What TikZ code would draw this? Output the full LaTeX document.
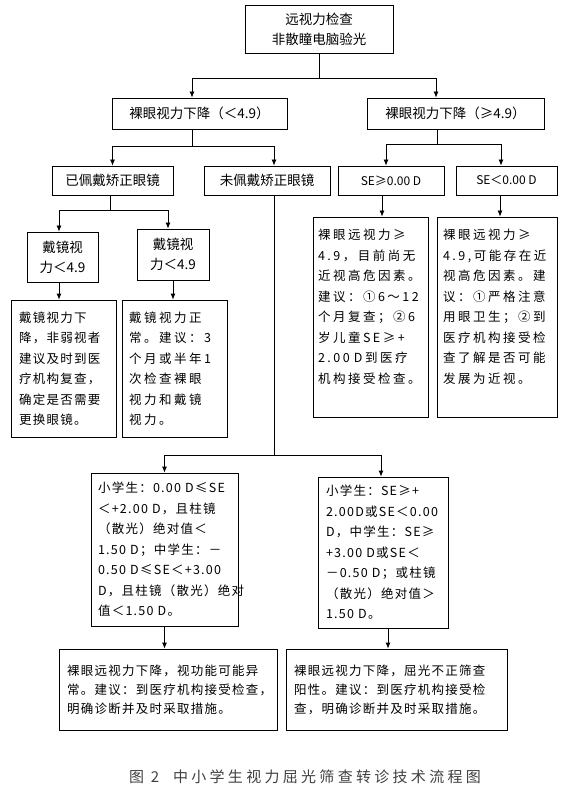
\documentclass[tikz,border=0pt]{standalone}
\usepackage{fontspec}
\setmainfont{Noto Sans CJK SC}
\newfontfamily\boxfont[LetterSpace=10]{Noto Sans CJK SC}
\newfontfamily\widefont[LetterSpace=20]{Noto Sans CJK SC}
\newfontfamily\capfont[LetterSpace=22]{Noto Sans CJK SC}
\usetikzlibrary{arrows.meta}

\begin{document}
\begin{tikzpicture}[x=1pt,y=-1pt,>={Latex[length=6pt,width=5pt]},
	every node/.style={font=\fontsize{13.5}{20}\selectfont,inner sep=0pt},
	box/.style={draw,line width=0.8pt,align=center},
	tbox/.style={draw,line width=0.8pt,align=left,inner sep=8pt,font=\boxfont\fontsize{12.5}{20.5}\selectfont},
	wide/.style={font=\widefont\fontsize{12.5}{20.5}\selectfont},
	conn/.style={line width=0.8pt}]
	\useasboundingbox (0,0) rectangle (570,799);
	% Top and first level
	\node[box,minimum width=148,minimum height=48] (eye) at (319,29) {远视力检查\\非散瞳电脑验光};
	\node[box,minimum width=175,minimum height=31] (low) at (199.5,113.5) {裸眼视力下降（＜4.9）};
	\node[box,minimum width=177,minimum height=31] (high) at (455.5,113.5) {裸眼视力下降（≥4.9）};
	\coordinate (j1) at (319,78);
	\draw[conn] (eye) -- (j1);
	\draw[conn,->] (j1) -| ([xshift=-7.5]low.north);
	\draw[conn,->] (j1) -| ([xshift=-19.5]high.north);
	% Second level
	\node[box,minimum width=121,minimum height=29] (wear) at (112.5,180.5) {已佩戴矫正眼镜};
	\node[box,minimum width=126,minimum height=29] (nowear) at (267,180.5) {未佩戴矫正眼镜};
	\node[box,minimum width=106,minimum height=29,font=\fontsize{12}{14}\selectfont] (sepos) at (391,180.5) {SE≥0.00 D};
	\node[box,minimum width=101,minimum height=29,font=\fontsize{12}{14}\selectfont] (seneg) at (506.5,180.5) {SE＜0.00 D};
	\coordinate (j2) at (192,146);
	\coordinate (j3) at (437,144);
	\draw[conn] ([xshift=-7.5]low.south) -- (j2);
	\draw[conn,->] (j2) -| (wear.north);
	\draw[conn,->] (j2) -| ([xshift=7]nowear.north);
	\draw[conn] ([xshift=-18.5]high.south) -- (j3);
	\draw[conn,->] (j3) -| ([xshift=-5]sepos.north);
	\draw[conn,->] (j3) -| ([xshift=-5.5]seneg.north);
	% Wearing glasses
	\node[box,minimum width=71,minimum height=50] (vaa) at (62.5,257) {戴镜视\\力＜4.9};
	\node[box,minimum width=72,minimum height=51] (vab) at (173,254.5) {戴镜视\\力＜4.9};
	\coordinate (j4) at (110,210);
	\draw[conn] ([xshift=-2.5]wear.south) -- (j4);
	\draw[conn,->] (j4) -| ([xshift=-3.5]vaa.north);
	\draw[conn,->] (j4) -| ([xshift=-5]vab.north);
	\node[tbox,text width=89,minimum height=137] (ta) at (63.5,368.5) {戴镜视力下\\降，非弱视者\\建议及时到医\\疗机构复查，\\确定是否需要\\更换眼镜。};
	\node[tbox,wide,text width=91,inner sep=7pt,minimum height=137] (tb) at (174.5,368.5) {戴镜视力正\\常。建议：3\\个月或半年1\\次检查裸眼\\视力和戴镜\\视力。};
	\draw[conn,->] ([xshift=-3.5]vaa.south) -- ([xshift=-3.5]vaa.south |- ta.north);
	\draw[conn,->] (vab.south) -- (vab.south |- tb.north);
	% Spherical equivalent
	\node[draw,line width=0.8pt,minimum width=115,minimum height=200] (tc) at (370.5,317) {};
	\node[tbox,wide,draw=none,text width=105,inner sep=6pt,anchor=north] (tctext) at ([yshift=-6]tc.north) {裸眼远视力≥\\4.9，目前尚无\\近视高危因素。\\建议：①6～12\\个月复查；②6\\岁儿童SE≥+\\2.00 D到医疗\\机构接受检查。};
	\node[draw,line width=0.8pt,minimum width=120,minimum height=200] (td) at (497,317) {};
	\node[tbox,wide,draw=none,text width=108,inner sep=6pt,anchor=north] (tdtext) at ([yshift=-6]td.north) {裸眼远视力≥\\4.9,可能存在近\\视高危因素。建\\议：①严格注意\\用眼卫生；②到\\医疗机构接受检\\查了解是否可能\\发展为近视。};
	\draw[conn,->] ([xshift=-9]sepos.south) -- ([xshift=-9]sepos.south |- tc.north);
	\draw[conn,->] ([xshift=-6.5]seneg.south) -- ([xshift=-6.5]seneg.south |- td.north);
	% Not wearing glasses
	\coordinate (j5) at (274,455);
	\node[tbox,text width=133,inner sep=7pt,minimum height=153] (te) at (164.5,549.5) {小学生：0.00 D≤SE\\＜+2.00 D，且柱镜\\（散光）绝对值＜\\1.50 D；中学生：－\\0.50 D≤SE＜+3.00\\D，且柱镜（散光）绝对\\值＜1.50 D。};
	\node[tbox,text width=114,minimum height=151] (tf) at (383,552.5) {小学生：SE≥+\\2.00D或SE＜0.00\\D，中学生：SE≥\\+3.00 D或SE＜\\－0.50 D；或柱镜\\（散光）绝对值＞\\1.50 D。};
	\draw[conn] ([xshift=7]nowear.south) -- (j5);
	\draw[conn,->] (j5) -| (te.north);
	\draw[conn,->] (j5) -| ([xshift=-2]tf.north);
	\node[tbox,text width=202,minimum height=81,font=\boxfont\fontsize{12.5}{19}\selectfont] (tg) at (168,689.5) {裸眼远视力下降，视功能可能异\\常。建议：到医疗机构接受检查，\\明确诊断并及时采取措施。};
	\node[tbox,text width=205,minimum height=81,font=\boxfont\fontsize{12.5}{19}\selectfont] (th) at (396.5,689.5) {裸眼远视力下降，屈光不正筛查\\阳性。建议：到医疗机构接受检\\查，明确诊断并及时采取措施。};
	\draw[conn,->] (te.south) -- (te.south |- tg.north);
	\draw[conn,->] ([xshift=5]tf.south) -- ([xshift=5]tf.south |- th.north);
	% Caption
	\node[font=\capfont\fontsize{15}{18}\selectfont,text=black!75] (cap) at (305,777) {图 2\hspace{14pt}中小学生视力屈光筛查转诊技术流程图};
\end{tikzpicture}
\end{document}
